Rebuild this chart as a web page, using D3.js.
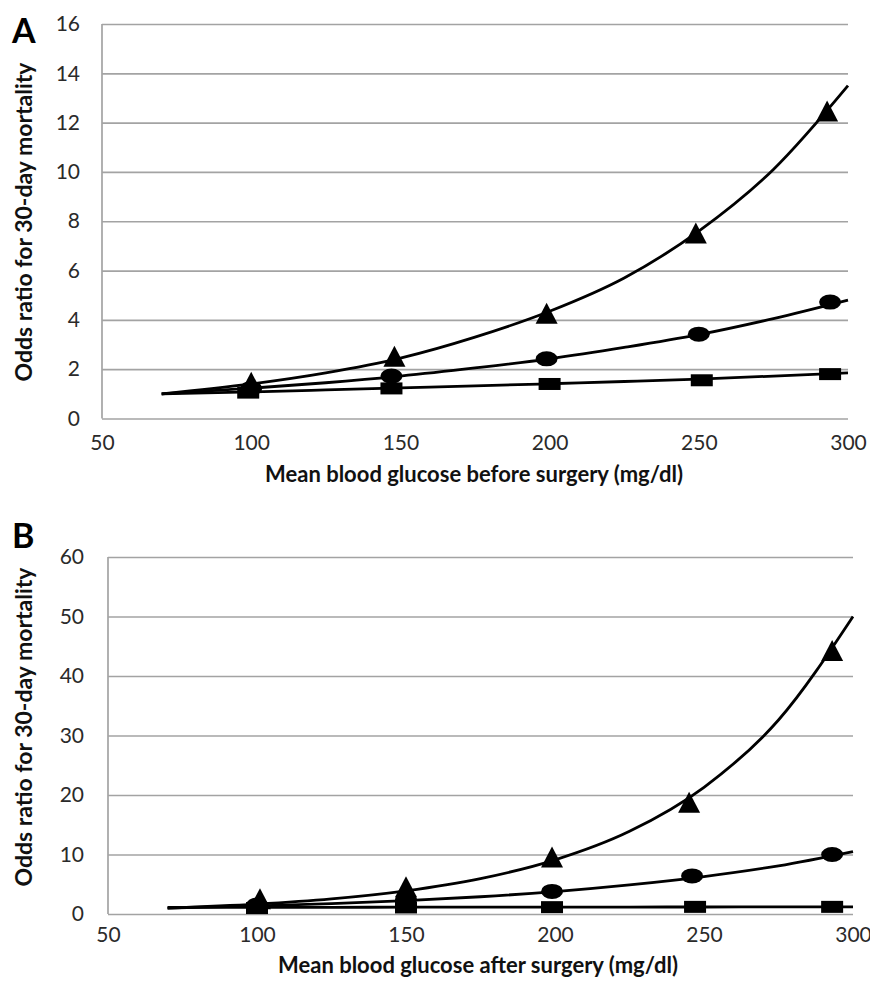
<!DOCTYPE html>
<html>
<head>
<meta charset="utf-8">
<script src="https://cdn.jsdelivr.net/npm/d3@7"></script>
<style>
  body { margin: 0; background: #fff; }
  text { font-family: Lato, "Open Sans", sans-serif; }
</style>
</head>
<body>
<div id="container"></div>
<script>
// panel A - before surgery
var curveXA = [70, 100, 125, 150, 175, 200, 225, 250, 275, 300];
var triCurveA = [1, 1.4, 1.85, 2.45, 3.3, 4.35, 5.7, 7.6, 10.1, 13.5];
var cirCurveA = [1, 1.23, 1.45, 1.72, 2.05, 2.42, 2.88, 3.4, 4.05, 4.8];
var sqCurveA = [1, 1.08, 1.16, 1.24, 1.32, 1.41, 1.5, 1.6, 1.72, 1.85];

var triXA = [100, 148, 199, 249, 293];
var triYA = [1.45, 2.5, 4.25, 7.5, 12.45];
var cirXA = [100, 147, 199, 250, 294];
var cirYA = [1.22, 1.72, 2.42, 3.42, 4.72];
var sqXA = [99, 147, 200, 251, 294];
var sqYA = [1.05, 1.22, 1.4, 1.55, 1.8];

// panel B - after surgery
var curveXB = [70, 100, 125, 150, 175, 200, 225, 250, 275, 300];
var triCurveB = [1, 1.67, 2.55, 3.9, 5.95, 9.1, 13.9, 21.3, 32.6, 50];
var cirCurveB = [1, 1.36, 1.75, 2.26, 2.9, 3.77, 4.9, 6.3, 8.1, 10.5];
var sqCurveB = [1.1, 1.12, 1.13, 1.14, 1.15, 1.16, 1.17, 1.18, 1.19, 1.2];

var triXB = [101, 150, 199, 245, 293];
var triYB = [2.5, 4.5, 9.5, 18.7, 44.2];
var cirXB = [100, 150, 199, 246, 293];
var cirYB = [1.5, 2.5, 3.8, 6.4, 10];
var sqXB = [100, 150, 199, 247, 293];
var sqYB = [1, 1.1, 1.15, 1.2, 1.2];

var xTicks = [50, 100, 150, 200, 250, 300];
var yTicksA = [0, 2, 4, 6, 8, 10, 12, 14, 16];
var yTicksB = [0, 10, 20, 30, 40, 50, 60];

var svg = d3.select("#container")
    .append("svg")
        .attr("width", 870)
        .attr("height", 991);

function zip(xs, ys) {
    return xs.map(function(d, i) { return [d, ys[i]]; });
}

function panel(opt) {
    var x = d3.scaleLinear().domain([50, 300]).range([opt.left, opt.right]);
    var y = d3.scaleLinear().domain(opt.yDomain).range([opt.bottom, opt.top]);
    var g = svg.append("g");

    // gridlines + y labels
    var yAxis = g.append("g")
        .attr("transform", "translate(" + opt.left + ",0)")
        .call(d3.axisLeft(y).tickValues(opt.yTicks).tickSize(-(opt.right - opt.left)).tickPadding(opt.yPad));
    yAxis.select(".domain").remove();
    yAxis.selectAll("line").attr("stroke", "#a3a3a3").attr("stroke-width", 1.7);
    yAxis.selectAll("text").attr("font-size", 21).attr("fill", "#2a2a2a");

    // left axis line
    g.append("line")
        .attr("x1", opt.left).attr("x2", opt.left)
        .attr("y1", opt.top).attr("y2", opt.bottom)
        .attr("stroke", "#a3a3a3").attr("stroke-width", 1.7);

    var xAxis = g.append("g")
        .attr("transform", "translate(0," + opt.bottom + ")")
        .call(d3.axisBottom(x).tickValues(xTicks).tickSize(0).tickPadding(opt.xPad));
    xAxis.select(".domain").remove();
    xAxis.selectAll("text").attr("font-size", 21).attr("fill", "#2a2a2a");

    var line = d3.line()
        .x(function(d) { return x(d[0]); })
        .y(function(d) { return y(d[1]); })
        .curve(d3.curveMonotoneX);

    [opt.sqCurve, opt.cirCurve, opt.triCurve].forEach(function(c) {
        g.append("path")
            .attr("d", line(zip(opt.curveX, c)))
            .attr("fill", "none")
            .attr("stroke", "black")
            .attr("stroke-width", 2.8);
    });

    // markers
    g.selectAll(".sq").data(zip(opt.sqX, opt.sqY)).enter()
        .append("rect")
        .attr("x", function(d) { return x(d[0]) - 11; })
        .attr("y", function(d) { return y(d[1]) - 6; })
        .attr("width", 22).attr("height", 12)
        .attr("fill", "black");

    g.selectAll(".cir").data(zip(opt.cirX, opt.cirY)).enter()
        .append("ellipse")
        .attr("cx", function(d) { return x(d[0]); })
        .attr("cy", function(d) { return y(d[1]); })
        .attr("rx", 11).attr("ry", 7.5)
        .attr("fill", "black");

    g.selectAll(".tri").data(zip(opt.triX, opt.triY)).enter()
        .append("path")
        .attr("d", function(d) {
            var cx = x(d[0]), cy = y(d[1]);
            return "M" + (cx - 11) + "," + (cy + 10) + " L" + cx + "," + (cy - 11) +
                   " L" + (cx + 11) + "," + (cy + 10) + " Z";
        })
        .attr("fill", "black");

    // titles
    g.append("text")
        .attr("x", opt.xTitleX)
        .attr("y", opt.xTitleY)
        .attr("text-anchor", "middle")
        .attr("font-size", 22).attr("font-weight", "bold").attr("fill", "#111")
        .text(opt.xTitle);

    g.append("text")
        .attr("transform", "translate(" + 32 + "," + opt.yTitleMid + ") rotate(-90)")
        .attr("text-anchor", "middle")
        .attr("font-size", 23).attr("font-weight", "bold").attr("fill", "#111")
        .text("Odds ratio for 30-day mortality");

    g.append("text")
        .attr("x", 12).attr("y", opt.labelY)
        .attr("font-family", "Liberation Sans, Arial, sans-serif")
        .attr("font-size", 34).attr("font-weight", "bold").attr("fill", "#000")
        .text(opt.label);
}

panel({
    left: 102, right: 848, top: 24, bottom: 418.5,
    yDomain: [0, 16], yTicks: yTicksA, yPad: 22,
    curveX: curveXA, triCurve: triCurveA, cirCurve: cirCurveA, sqCurve: sqCurveA,
    triX: triXA, triY: triYA, cirX: cirXA, cirY: cirYA, sqX: sqXA, sqY: sqYA,
    xPad: 17, xTitleX: 474, xTitleY: 482, yTitleMid: 222,
    xTitle: "Mean blood glucose before surgery (mg/dl)", label: "A", labelY: 43
});

panel({
    left: 108, right: 853, top: 557, bottom: 914,
    yDomain: [0, 60], yTicks: yTicksB, yPad: 24,
    curveX: curveXB, triCurve: triCurveB, cirCurve: cirCurveB, sqCurve: sqCurveB,
    triX: triXB, triY: triYB, cirX: cirXB, cirY: cirYB, sqX: sqXB, sqY: sqYB,
    xPad: 13, xTitleX: 478, xTitleY: 973, yTitleMid: 727,
    xTitle: "Mean blood glucose after surgery (mg/dl)", label: "B", labelY: 548
});
</script>
</body>
</html>
